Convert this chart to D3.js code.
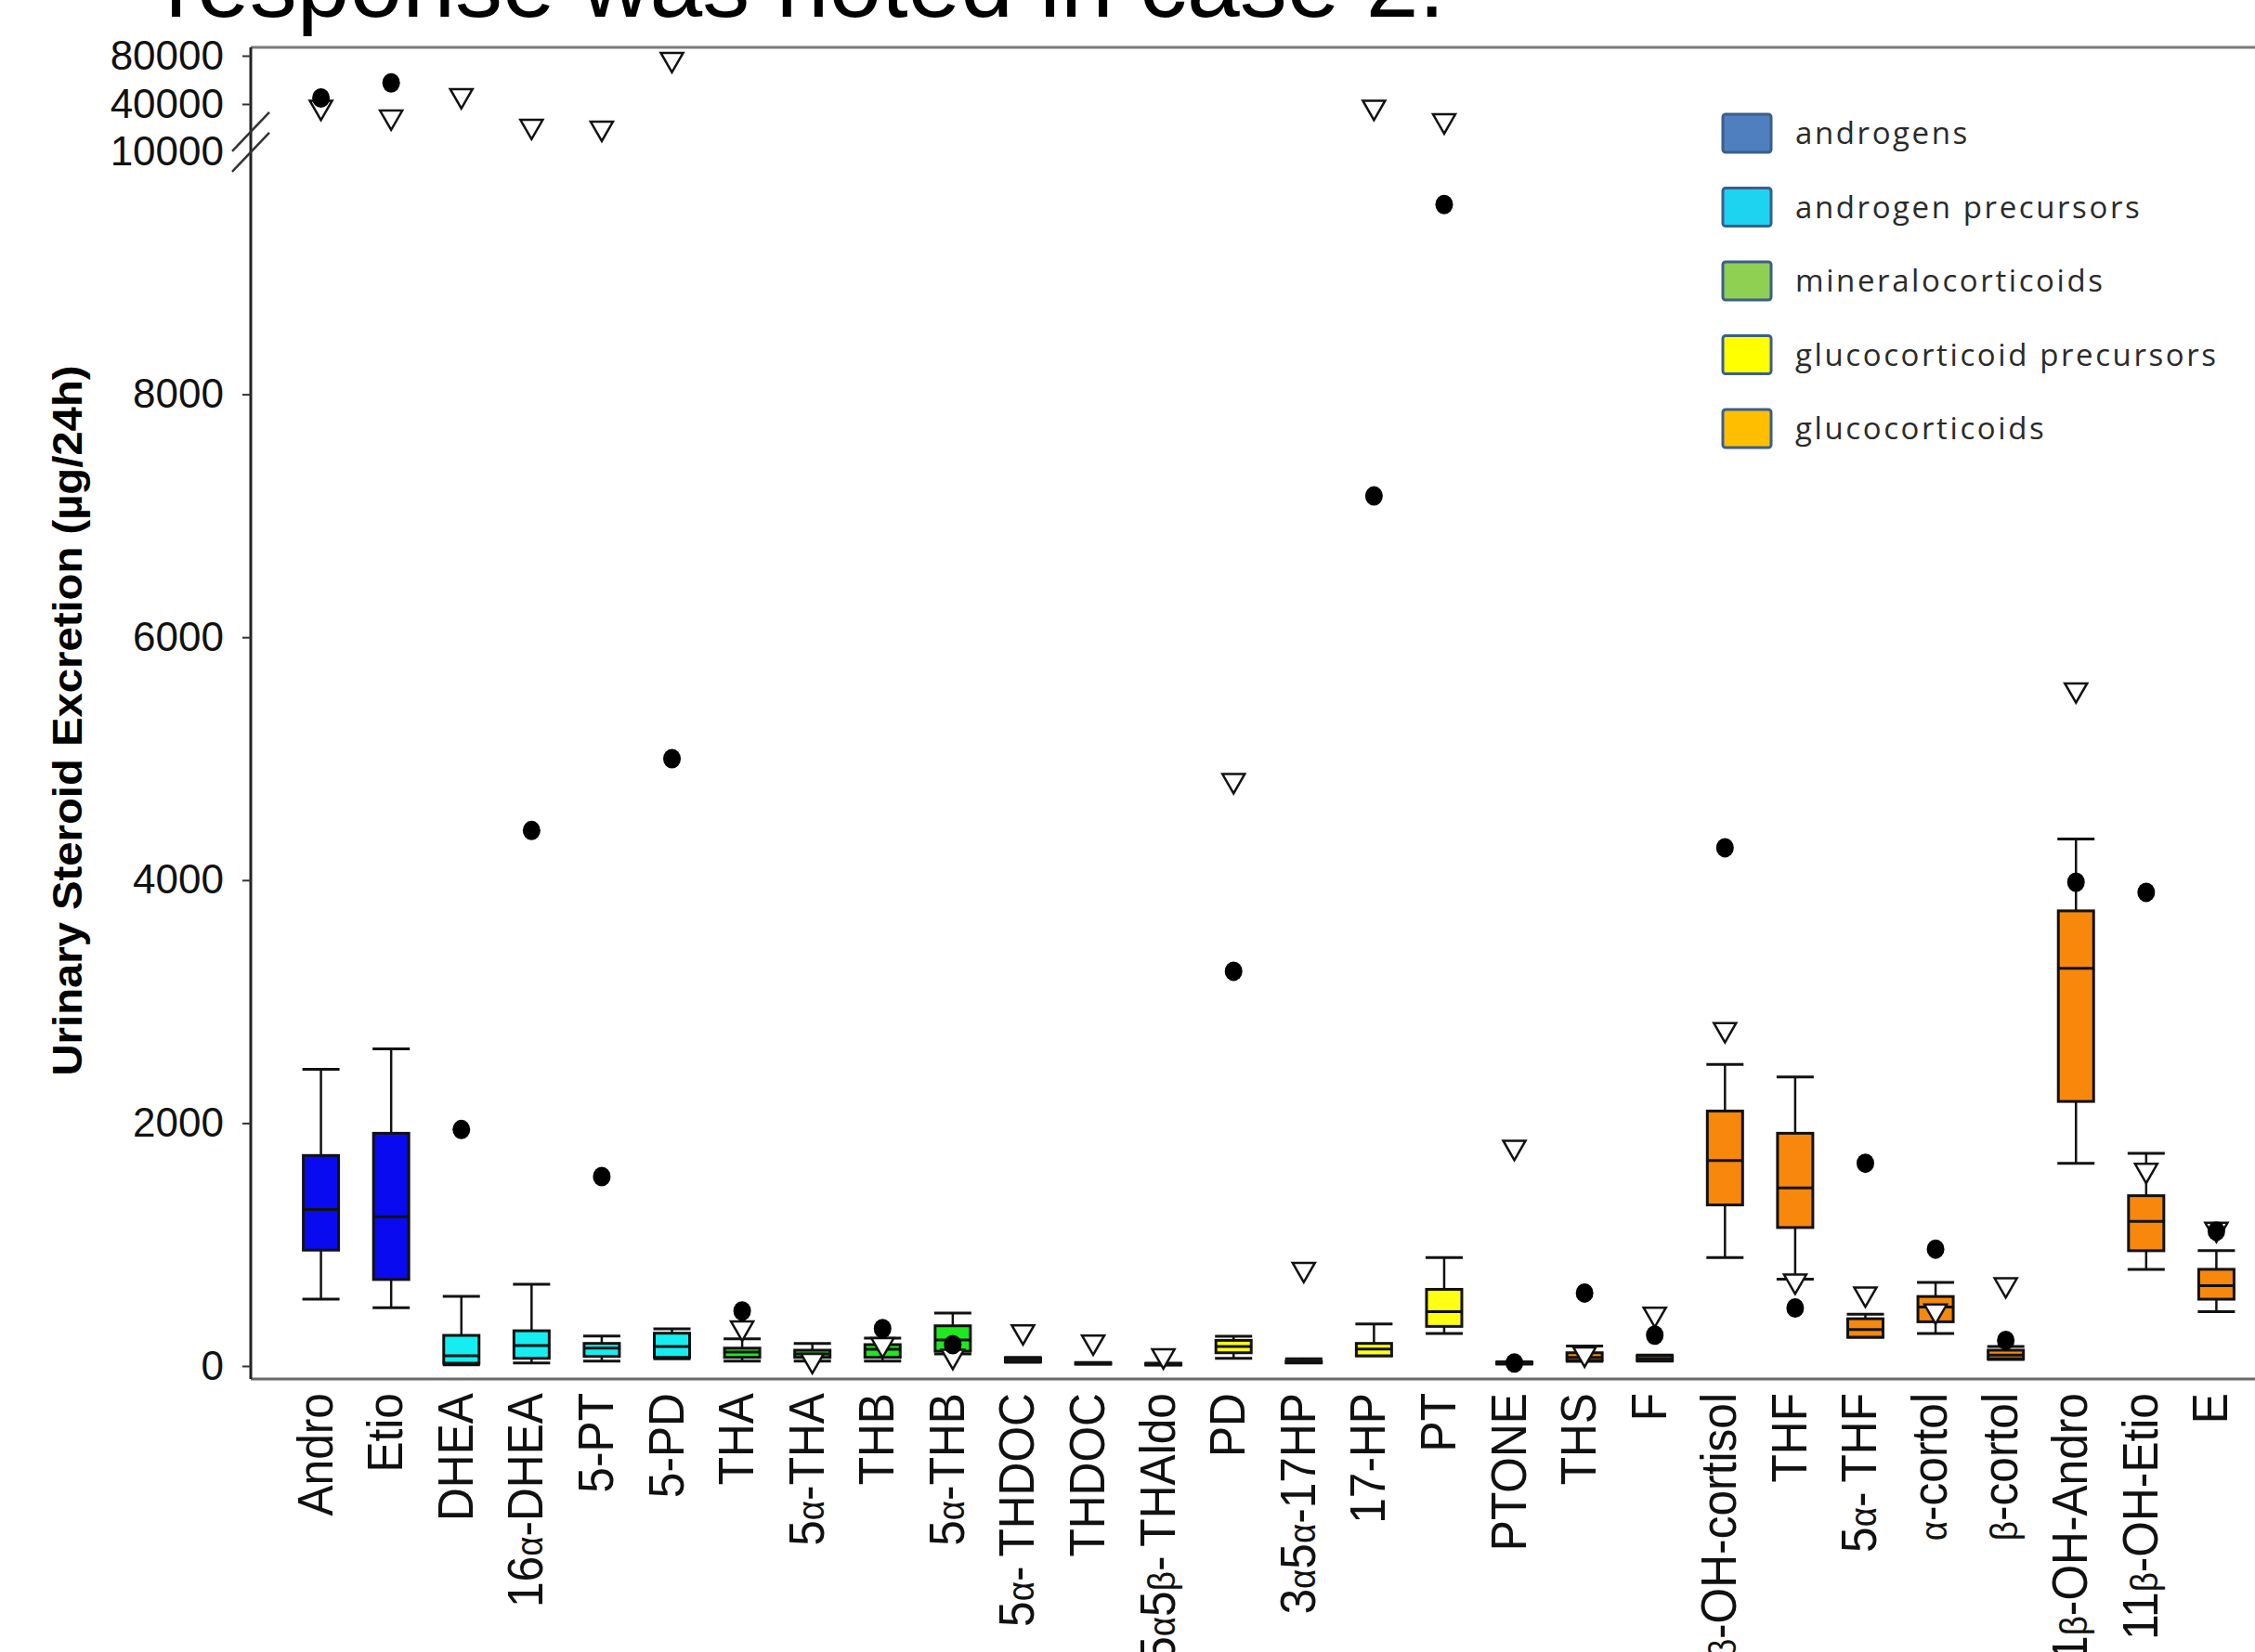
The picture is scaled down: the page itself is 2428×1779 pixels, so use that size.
<!DOCTYPE html>
<html>
<head>
<meta charset="utf-8">
<script src="https://cdn.jsdelivr.net/npm/d3@7"></script>
<style>
  body { margin: 0; background: #fff; }
  text { font-family: Arial, "Liberation Sans", sans-serif; }
</style>
</head>
<body>
<svg id="chart" width="2428" height="1779"></svg>
<script>
// ---- data ----
var steroids = ["Andro", "Etio", "DHEA", "16α-DHEA", "5-PT", "5-PD", "THA", "5α-THA", "THB", "5α-THB",
  "5α- THDOC", "THDOC", "5α5β- THAldo", "PD", "3α5α-17HP", "17-HP", "PT", "PTONE", "THS", "F",
  "6β-OH-cortisol", "THF", "5α- THF", "α-cortol", "β-cortol", "11β-OH-Andro", "11β-OH-Etio", "E"];
// group of each steroid (index into legendNames)
var groupOf = [0, 0, 1, 1, 1, 1, 2, 2, 2, 2, 2, 2, 2, 3, 3, 3, 3, 3, 4, 4, 4, 4, 4, 4, 4, 4, 4, 4];

// reference range boxplots (µg/24h)
var whiskLow  = [550, 480, 10, 25, 40, 60, 40, 40, 40, 100, 30, 15, 8, 63, 25, 84, 267, 15, 38, 40, 893, 715, 237, 267, 53, 1669, 796, 448];
var q1        = [954, 712, 23, 63, 79, 71, 71, 71, 71, 122, 35, 18, 10, 109, 28, 84, 326, 20, 45, 45, 1326, 1140, 237, 364, 60, 2178, 949, 550];
var median    = [1288, 1229, 84, 168, 147, 160, 115, 100, 137, 214, 50, 20, 15, 160, 33, 140, 448, 25, 70, 60, 1692, 1466, 300, 486, 90, 3274, 1191, 662];
var q3        = [1733, 1916, 252, 290, 186, 270, 147, 130, 176, 331, 65, 24, 20, 211, 40, 186, 631, 30, 109, 84, 2099, 1916, 389, 572, 130, 3747, 1402, 796];
var whiskHigh = [2443, 2610, 573, 672, 247, 305, 224, 186, 229, 435, 70, 28, 22, 244, 60, 346, 893, 35, 165, 90, 2483, 2379, 427, 689, 160, 4338, 1750, 949];

// patient values: filled dots and open triangles (null = not shown)
var dotValues = [45000, 57500, 1947, 4409, 1560, 5000, 453, null, 308, 176, null, null, null, 3250, null, 7163, 9562, 25, 601, 254, 4267, 478, 1669, 962, 211, 3983, 3900, 1110];
var triValues = [38000, 31800, 47000, 25900, 24700, 77000, 313, 46, 176, 80, 282, 198, 84, 4820, 796, 38000, 29400, 1801, 99, 427, 2770, 700, 593, 453, 669, 5567, 1611, 1127];

var yTicks = [0, 2000, 4000, 6000, 8000, 10000, 40000, 80000];
var legendNames = ["androgens", "androgen precursors", "mineralocorticoids", "glucocorticoid precursors", "glucocorticoids"];
var legendColors = ["#4f7fbf", "#1dd3ef", "#8fd053", "#ffff00", "#ffbf00"];
var boxColors = ["#0a0af0", "#14eef0", "#1ee81e", "#ffff14", "#f7880c"];

var titleText = "response was noted in case 2.";
var yTitle = "Urinary Steroid Excretion (µg/24h)";

// ---- layout ----
var svg = d3.select("#chart");
var W = 2428, H = 1779;
var axisX = 270, topY = 51, bottomY = 1485;

var x = d3.scalePoint().domain(steroids).range([axisX, 2462]).padding(1);
// broken axis: linear to 10000, compressed above
var y = d3.scaleLinear().domain([0, 10000, 40000, 80000]).range([1471, 163, 112, 60]);
var color = function(i) { return boxColors[groupOf[i]]; };

// title (cut off at the top edge)
svg.append("text")
    .attr("x", 178).attr("y", 18)
    .style("font-size", "102px")
    .attr("fill", "#000")
    .text(titleText);

// frame
svg.append("line").attr("x1", axisX).attr("x2", W).attr("y1", topY).attr("y2", topY)
    .attr("stroke", "#7a7a7a").attr("stroke-width", 3);
svg.append("line").attr("x1", axisX).attr("x2", W).attr("y1", bottomY).attr("y2", bottomY)
    .attr("stroke", "#6a6a6a").attr("stroke-width", 3);
svg.append("line").attr("x1", axisX).attr("x2", axisX).attr("y1", topY).attr("y2", bottomY)
    .attr("stroke", "#222").attr("stroke-width", 3);

// y axis ticks
var yAxis = svg.append("g")
    .attr("transform", "translate(" + axisX + ",0)")
    .call(d3.axisLeft(y).tickValues(yTicks).tickSize(9).tickPadding(20).tickFormat(d3.format("d")));
yAxis.select(".domain").remove();
yAxis.selectAll(".tick line").attr("stroke", "#333").attr("stroke-width", 2)
    .attr("opacity", function(d) { return d === 10000 ? 0 : 1; });
yAxis.selectAll(".tick text")
    .style("font-size", "44px")
    .style("font-family", "Arial, 'Liberation Sans', sans-serif")
    .attr("fill", "#111");

// axis break marks
var breakY = y(16000);
[-11, 11].forEach(function(off) {
  svg.append("line")
      .attr("x1", axisX - 20).attr("y1", breakY + off + 21)
      .attr("x2", axisX + 20).attr("y2", breakY + off - 21)
      .attr("stroke", "#333").attr("stroke-width", 2.5);
});

// y title
svg.append("text")
    .attr("transform", "translate(88," + 776 + ") rotate(-90)")
    .attr("text-anchor", "middle")
    .attr("textLength", 765)
    .attr("lengthAdjust", "spacingAndGlyphs")
    .style("font-size", "44px")
    .style("font-weight", "bold")
    .attr("fill", "#000")
    .text(yTitle);

// x labels (greek letters set smaller, text slightly condensed like the original)
var xLabels = svg.append("g").selectAll("text")
  .data(steroids)
  .enter().append("text")
    .attr("transform", function(d) { return "translate(" + (x(d) + 12) + ",1500) rotate(-90) scale(0.92,1)"; })
    .attr("text-anchor", "end")
    .style("font-size", "54px")
    .attr("fill", "#111");
xLabels.each(function(d) {
  var t = d3.select(this);
  d.split(/([α-ω]+)/).filter(function(s) { return s.length; }).forEach(function(s) {
    var greek = /[α-ω]/.test(s);
    t.append("tspan")
        .style("font-size", greek ? "40px" : null)
        .text(s.replace("- ", "-\u2009"));
  });
});

// boxplots
var boxW = 38, capW = 40;
var boxes = svg.append("g").selectAll("g")
  .data(steroids)
  .enter().append("g");

boxes.append("line")
    .attr("x1", function(d) { return x(d); }).attr("x2", function(d) { return x(d); })
    .attr("y1", function(d, i) { return y(whiskLow[i]); })
    .attr("y2", function(d, i) { return y(whiskHigh[i]); })
    .attr("stroke", "#111").attr("stroke-width", 2.5);
boxes.selectAll(".cap")
  .data(function(d, i) { return [{k: d, v: whiskLow[i]}, {k: d, v: whiskHigh[i]}]; })
  .enter().append("line")
    .attr("x1", function(c) { return x(c.k) - capW / 2; })
    .attr("x2", function(c) { return x(c.k) + capW / 2; })
    .attr("y1", function(c) { return y(c.v); })
    .attr("y2", function(c) { return y(c.v); })
    .attr("stroke", "#111").attr("stroke-width", 3);
boxes.append("rect")
    .attr("x", function(d) { return x(d) - boxW / 2; })
    .attr("width", boxW)
    .attr("y", function(d, i) { return y(q3[i]); })
    .attr("height", function(d, i) { return Math.max(1, y(q1[i]) - y(q3[i])); })
    .attr("fill", function(d, i) { return color(i); })
    .attr("stroke", "#111").attr("stroke-width", 3);
boxes.append("line")
    .attr("x1", function(d) { return x(d) - boxW / 2; })
    .attr("x2", function(d) { return x(d) + boxW / 2; })
    .attr("y1", function(d, i) { return y(median[i]); })
    .attr("y2", function(d, i) { return y(median[i]); })
    .attr("stroke", "#111").attr("stroke-width", 3);

// open inverted triangles
var tri = d3.symbol().type(d3.symbolTriangle).size(250);
svg.append("g").selectAll("path")
  .data(steroids.filter(function(d, i) { return triValues[i] != null; }))
  .enter().append("path")
    .attr("d", tri)
    .attr("transform", function(d) {
      var i = steroids.indexOf(d);
      return "translate(" + x(d) + "," + y(triValues[i]) + ") rotate(180)";
    })
    .attr("fill", "#fff").attr("stroke", "#111").attr("stroke-width", 2.5);

// filled dots
svg.append("g").selectAll("ellipse")
  .data(steroids.filter(function(d, i) { return dotValues[i] != null; }))
  .enter().append("ellipse")
    .attr("cx", function(d) { return x(d); })
    .attr("cy", function(d) { return y(dotValues[steroids.indexOf(d)]); })
    .attr("rx", 9.5).attr("ry", 10.5)
    .attr("fill", "#000");

// legend
var legend = svg.append("g").attr("transform", "translate(1855,123)");
var rows = legend.selectAll("g")
  .data(legendNames)
  .enter().append("g")
    .attr("transform", function(d, i) { return "translate(0," + (i * 79.5) + ")"; });
rows.append("rect")
    .attr("width", 52).attr("height", 41).attr("rx", 3)
    .attr("fill", function(d, i) { return legendColors[i]; })
    .attr("stroke", "#3b5e8c").attr("stroke-width", 3);
rows.append("text")
    .attr("x", 78).attr("y", 32)
    .style("font-family", "'Open Sans', sans-serif")
    .style("font-size", "33px")
    .style("letter-spacing", "2.6px")
    .attr("fill", "#2a2a2a")
    .text(function(d) { return d; });
</script>
</body>
</html>
